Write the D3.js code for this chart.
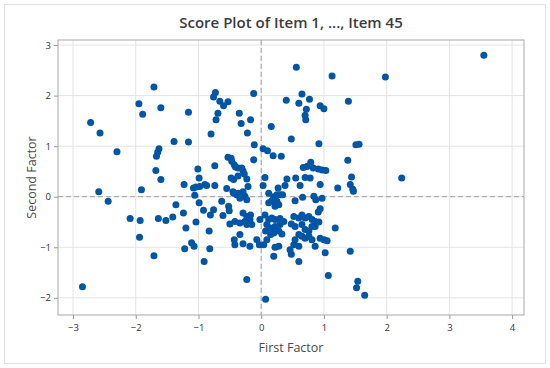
<!DOCTYPE html>
<html>
<head>
<meta charset="utf-8">
<script src="https://cdn.jsdelivr.net/npm/d3@7"></script>
<style>
  body { margin: 0; background: #fff; }
  svg text { font-family: "Open Sans", "Noto Sans", sans-serif; }
</style>
</head>
<body>
<svg id="chart" width="550" height="368"></svg>
<script>
// Factor scores: [first factor, second factor]
const upperScores = [
  [3.55, 2.80], [1.98, 2.37], [0.56, 2.56], [1.13, 2.39], [-1.71, 2.17],
  [-0.73, 2.06], [-0.76, 1.97], [-0.66, 1.89], [-0.60, 1.80], [-0.53, 1.88],
  [-0.69, 1.65], [-0.72, 1.52], [-0.80, 1.24], [-0.35, 1.65], [-0.32, 1.45],
  [-0.17, 1.52], [-0.22, 1.26], [-0.12, 2.04], [0.16, 1.39], [0.40, 1.91],
  [0.60, 1.85], [0.65, 2.03], [0.77, 1.93], [0.72, 1.73], [0.70, 1.61],
  [0.71, 1.52], [0.94, 1.80], [1.00, 1.74], [1.39, 1.89], [-2.72, 1.47],
  [-2.57, 1.26], [-2.30, 0.89], [-1.95, 1.84], [-1.89, 1.63], [-1.60, 1.76],
  [-1.16, 1.67], [-1.39, 1.09], [-1.16, 1.08], [-1.63, 0.95], [-1.65, 0.88],
  [-1.67, 0.80], [-1.68, 0.52], [-1.60, 0.34], [1.51, 1.03], [1.56, 1.04],
  [1.38, 0.72], [0.48, 1.14], [0.92, 1.05]
];

const middleScores = [
  [-0.11, 1.03], [-0.12, 0.73], [0.03, 0.95], [0.10, 0.91], [0.19, 0.81],
  [0.32, 0.80], [-0.53, 0.78], [-0.48, 0.76], [-0.47, 0.70], [-0.43, 0.63],
  [-0.41, 0.59], [-0.37, 0.57], [-0.31, 0.57], [-0.29, 0.51], [-0.27, 0.45],
  [-0.37, 0.41], [-0.23, 0.35], [-0.74, 0.61], [-1.01, 0.55], [-0.99, 0.37],
  [-0.48, 0.37], [-0.44, 0.34], [0.06, 0.38], [0.41, 0.35], [0.55, 0.37],
  [0.67, 0.58], [0.73, 0.60], [0.79, 0.68], [0.83, 0.57], [0.91, 0.55],
  [0.97, 0.53], [1.03, 0.52], [0.70, 0.38], [0.78, 0.37], [0.94, 0.24],
  [1.22, 0.17], [-0.87, 0.22], [0.03, 0.22], [0.38, 0.22], [0.62, 0.22],
  [1.44, 0.39], [1.42, 0.24], [1.46, 0.15], [1.47, 0.11], [2.24, 0.37],
  [-1.08, 0.17], [-0.98, 0.20], [-0.90, 0.24], [-0.74, 0.22], [-0.55, 0.16],
  [-0.45, 0.10], [-0.37, 0.07], [-0.29, 0.10], [-0.21, 0.20], [-1.23, 0.24],
  [-1.04, 0.19], [0.27, 0.17], [-2.59, 0.10], [-1.91, 0.14]
];

const lowerScores = [
  [-1.06, 0.03], [-0.99, -0.12], [-0.92, -0.27], [-0.76, -0.26], [-0.81, -0.36],
  [-0.63, -0.09], [-0.61, -0.37], [-0.52, -0.19], [-0.51, -0.28], [-0.44, 0.07],
  [-0.39, 0.04], [-0.34, -0.03], [-0.26, 0.01], [-0.23, -0.06], [-0.29, -0.32],
  [-0.23, -0.39], [-0.18, -0.45], [-0.26, -0.49], [-0.34, -0.52], [-0.42, -0.49],
  [-0.50, -0.54], [-0.23, -0.55], [-0.15, -0.55], [-0.17, -0.36], [-0.02, -0.45],
  [-1.24, -0.32], [-1.20, -0.62], [-1.04, -0.50], [-0.83, -0.68], [-0.34, -0.75],
  [-0.43, -0.85], [-0.42, -0.95], [-0.29, -0.93], [-0.18, -0.98], [-0.07, -0.85],
  [-0.03, -0.95], [-1.11, -0.91], [-1.07, -0.98], [-1.22, -1.03], [-0.82, -1.03],
  [-0.91, -1.28], [-2.44, -0.09], [-1.36, -0.16], [-1.41, -0.40], [-1.52, -0.47],
  [-1.64, -0.43], [-2.09, -0.43], [-1.93, -0.47], [-1.94, -0.80], [-1.71, -1.17],
  [-2.85, -1.78], [0.12, 0.07], [0.20, 0.00], [0.25, 0.04], [0.30, 0.04],
  [0.34, 0.04], [0.17, -0.08], [0.25, -0.09], [0.12, -0.12], [0.28, -0.16],
  [0.22, -0.19], [0.54, -0.08], [0.66, -0.01], [0.84, 0.01], [0.87, -0.06],
  [0.97, -0.03], [0.94, -0.24], [0.91, -0.30], [0.06, -0.36], [0.12, -0.45],
  [0.17, -0.42], [0.22, -0.45], [0.30, -0.43], [0.36, -0.49], [0.09, -0.55],
  [0.15, -0.62], [0.22, -0.59], [0.30, -0.55], [0.07, -0.68], [0.15, -0.75],
  [0.20, -0.72], [0.28, -0.68], [0.33, -0.74], [0.04, -0.95], [0.09, -0.85],
  [0.22, -1.00], [0.28, -0.98], [0.20, -1.18], [0.52, -0.39], [0.60, -0.42],
  [0.65, -0.36], [0.70, -0.42], [0.76, -0.39], [0.81, -0.45], [0.86, -0.49],
  [0.92, -0.50], [0.86, -0.59], [0.81, -0.59], [0.65, -0.55], [0.54, -0.59],
  [0.48, -0.54], [0.70, -0.65], [0.76, -0.68], [0.60, -0.75], [0.65, -0.78],
  [0.70, -0.82], [0.76, -0.78], [0.81, -0.85], [0.54, -0.85], [0.52, -0.95],
  [0.60, -0.98], [0.86, -0.98], [0.94, -0.82], [1.00, -0.85], [1.05, -0.87],
  [1.18, -0.62], [1.02, -1.11], [0.60, -1.28], [0.46, -1.05], [0.48, -1.14],
  [1.42, -1.08], [1.54, -1.67], [1.52, -1.80], [1.65, -1.95], [1.07, -1.56],
  [-0.23, -1.64], [0.07, -2.03]
];

const scores = upperScores.concat(middleScores, lowerScores);

const xTicks = [-3, -2, -1, 0, 1, 2, 3, 4];
const yTicks = [-2, -1, 0, 1, 2, 3];

const W = 550, H = 368;
const margin = { left: 58, right: 26, top: 40, bottom: 53 };
const innerW = W - margin.left - margin.right;
const innerH = H - margin.top - margin.bottom;

const svg = d3.select('#chart');

// marco exterior gris claro
svg.append('rect')
  .attr('x', 4.5).attr('y', 4.5)
  .attr('width', W - 9).attr('height', H - 9)
  .attr('fill', '#fff')
  .attr('stroke', '#e3e3e3')
  .attr('stroke-width', 1);

const x = d3.scaleLinear().domain([-3.24, 4.19]).range([0, innerW]);
const y = d3.scaleLinear().domain([-2.34, 3.1]).range([innerH, 0]);

const g = svg.append('g').attr('transform', `translate(${margin.left},${margin.top})`);

// grid
g.selectAll('.vgrid').data(xTicks).enter().append('line')
  .attr('x1', d => x(d)).attr('x2', d => x(d))
  .attr('y1', 0).attr('y2', innerH)
  .attr('stroke', '#e4e4e4');
g.selectAll('.hgrid').data(yTicks).enter().append('line')
  .attr('x1', 0).attr('x2', innerW)
  .attr('y1', d => y(d)).attr('y2', d => y(d))
  .attr('stroke', '#e4e4e4');

// reference lines at zero
g.append('line')
  .attr('x1', x(0)).attr('x2', x(0)).attr('y1', 0).attr('y2', innerH)
  .attr('stroke', '#a0a0a0').attr('stroke-dasharray', '5,3');
g.append('line')
  .attr('x1', 0).attr('x2', innerW).attr('y1', y(0)).attr('y2', y(0))
  .attr('stroke', '#a0a0a0').attr('stroke-dasharray', '5,3');

// axes
const xAxis = g.append('g')
  .attr('transform', `translate(0,${innerH})`)
  .call(d3.axisBottom(x).tickValues(xTicks).tickSize(4).tickFormat(d3.format('d')));
const yAxis = g.append('g')
  .call(d3.axisLeft(y).tickValues(yTicks).tickSize(4).tickFormat(d3.format('d')));

[xAxis, yAxis].forEach(a => {
  a.select('.domain').remove();
  a.selectAll('.tick line').attr('stroke', '#999');
  a.selectAll('.tick text').attr('fill', '#333').attr('font-size', 9.5);
});
xAxis.selectAll('.tick text').attr('dy', '0.9em');

// plot frame
g.append('rect')
  .attr('x', 0).attr('y', 0).attr('width', innerW).attr('height', innerH)
  .attr('fill', 'none').attr('stroke', '#a8a8a8');

// points
g.selectAll('.dot').data(scores).enter().append('circle')
  .attr('class', 'dot')
  .attr('cx', d => x(d[0]))
  .attr('cy', d => y(d[1]))
  .attr('r', 3.5)
  .attr('fill', '#0055a5');

// titles
svg.append('text')
  .attr('x', margin.left + innerW / 2).attr('y', 28)
  .attr('text-anchor', 'middle')
  .attr('font-size', 15).attr('font-weight', 600).attr('fill', '#3c3c3c')
  .text('Score Plot of Item 1, ..., Item 45');

svg.append('text')
  .attr('x', margin.left + innerW / 2).attr('y', 352)
  .attr('text-anchor', 'middle')
  .attr('font-size', 12.5).attr('fill', '#4a4a4a')
  .text('First Factor');

svg.append('text')
  .attr('transform', `translate(36,${margin.top + innerH / 2}) rotate(-90)`)
  .attr('text-anchor', 'middle')
  .attr('font-size', 12.5).attr('fill', '#4a4a4a')
  .text('Second Factor');
</script>
</body>
</html>
